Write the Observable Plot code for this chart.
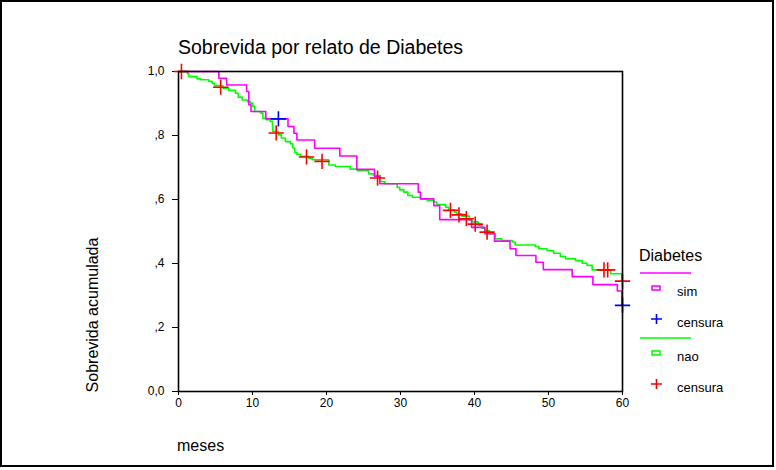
<!DOCTYPE html>
<html>
<head>
<meta charset="utf-8">
<script src="https://cdn.jsdelivr.net/npm/d3@7"></script>
<script src="https://cdn.jsdelivr.net/npm/@observablehq/plot@0.6"></script>
<style>
  html, body { margin: 0; padding: 0; background: #fff; }
  #chart svg { display: block; }
</style>
</head>
<body>
<div id="chart"></div>
<script>
// ---- Data ----
const titleText = "Sobrevida por relato de Diabetes";
const xLabel = "meses";
const yLabel = "Sobrevida acumulada";
const legendTitle = "Diabetes";
const groups = ["sim", "nao"];
const censorLabel = "censura";

const xTicks = [0, 10, 20, 30, 40, 50, 60];
const yTicks = [0, 0.2, 0.4, 0.6, 0.8, 1.0];
const yTickLabels = ["0,0", ",2", ",4", ",6", ",8", "1,0"];

// Kaplan-Meier steps, group "sim"
const simTime = [0, 5.45, 6.5, 9.2, 9.5, 9.8, 11.8, 14.8, 15.6, 16.0, 18.4, 21.8, 24.1, 26.5, 27.2, 32.4, 32.7, 34.5, 35.3, 39.6, 41.4, 42.7, 44.8, 45.6, 48.3, 49.3, 53.2, 56.0, 59.3, 59.9, 60];
const simSurv = [1, 0.979, 0.958, 0.9375, 0.896, 0.875, 0.852, 0.828, 0.807, 0.786, 0.760, 0.736, 0.694, 0.672, 0.649, 0.623, 0.602, 0.581, 0.537, 0.513, 0.493, 0.470, 0.446, 0.425, 0.404, 0.381, 0.359, 0.334, 0.314, 0.269, 0.269];
const simCensorTime = [13.5, 60];
const simCensorSurv = [0.852, 0.269];

// Kaplan-Meier steps, group "nao"
const naoTime = [0, 1.2, 1.4, 2.5, 3.0, 4.1, 4.55, 4.86, 6.0, 6.8, 7.7, 8.07, 8.6, 9.3, 9.7, 10.05, 10.3, 11.1, 11.4, 11.85, 12.4, 12.7, 12.75, 13.5, 13.9, 14.45, 15.1, 15.45, 15.7, 16.0, 16.5, 17.6, 18.07, 20.3, 21.2, 23.2, 24.15, 25.7, 26.4, 27.3, 27.9, 29.55, 29.9, 30.45, 31.0, 31.6, 32.7, 33.6, 34.5, 34.9, 36.1, 36.5, 37.3, 37.6, 38.3, 39.3, 39.7, 40.5, 41.0, 41.4, 42.0, 42.8, 43.7, 45.1, 45.5, 48.2, 48.7, 49.8, 50.7, 51.6, 52.3, 53.65, 54.55, 55.2, 55.9, 58.4, 59.9, 60];
const naoSurv = [1, 0.993, 0.984, 0.977, 0.974, 0.969, 0.963, 0.956, 0.948, 0.941, 0.932, 0.92, 0.911, 0.906, 0.901, 0.891, 0.875, 0.87, 0.854, 0.849, 0.844, 0.828, 0.8125, 0.802, 0.792, 0.781, 0.774, 0.761, 0.747, 0.741, 0.735, 0.729, 0.724, 0.708, 0.703, 0.695, 0.69, 0.68, 0.675, 0.656, 0.649, 0.638, 0.63, 0.623, 0.6125, 0.607, 0.602, 0.597, 0.592, 0.584, 0.576, 0.568, 0.56, 0.555, 0.548, 0.535, 0.53, 0.518, 0.51, 0.503, 0.493, 0.477, 0.472, 0.467, 0.458, 0.453, 0.446, 0.44, 0.432, 0.422, 0.415, 0.409, 0.401, 0.394, 0.38, 0.368, 0.345, 0.345];
const naoCensorTime = [0.4, 5.7, 13.2, 17.3, 19.4, 26.9, 36.75, 37.9, 38.9, 40.1, 41.7, 57.5, 58.0, 60];
const naoCensorSurv = [1.0, 0.951, 0.808, 0.733, 0.719, 0.667, 0.566, 0.552, 0.54, 0.523, 0.498, 0.38, 0.38, 0.345];

const colors = {sim: "#ff00ff", nao: "#00ff00", simCensor: "#0000ff", naoCensor: "#ff0000"};

// ---- Build tables ----
const simLine = simTime.map((t, i) => ({t, s: simSurv[i]}));
const naoLine = naoTime.map((t, i) => ({t, s: naoSurv[i]}));
const simCens = simCensorTime.map((t, i) => ({t, s: simCensorSurv[i]}));
const naoCens = naoCensorTime.map((t, i) => ({t, s: naoCensorSurv[i]}));

const font = "'Liberation Sans', Arial, Helvetica, sans-serif";

const chart = Plot.plot({
  width: 776,
  height: 470,
  marginLeft: 178,
  marginRight: 154,
  marginTop: 71,
  marginBottom: 79,
  style: {fontFamily: font, fontSize: "12px", color: "#000", background: "#fff", overflow: "visible"},
  x: {domain: [0, 60], ticks: xTicks, tickSize: 4, tickPadding: 3, label: null},
  y: {domain: [0, 1], ticks: yTicks, tickSize: 6, tickPadding: 8, label: null,
      tickFormat: d => yTickLabels[yTicks.findIndex(v => Math.abs(v - d) < 1e-9)]},
  marks: [
    Plot.line(naoLine, {x: "t", y: "s", curve: "step-after", stroke: colors.nao, strokeWidth: 1.6}),
    Plot.line(simLine, {x: "t", y: "s", curve: "step-after", stroke: colors.sim, strokeWidth: 1.6}),
    Plot.dot(naoCens, {x: "t", y: "s", symbol: "plus", r: 5, stroke: colors.naoCensor, strokeWidth: 1.6}),
    Plot.dot(simCens, {x: "t", y: "s", symbol: "plus", r: 5, stroke: colors.simCensor, strokeWidth: 1.6}),
    Plot.frame({stroke: "#000", strokeWidth: 1.6})
  ]
});

document.getElementById("chart").appendChild(chart);

// ---- Titles and legend added to the same SVG ----
const svg = d3.select(chart);
svg.append("rect").attr("x", 1).attr("y", 1).attr("width", 772).attr("height", 465)
  .attr("fill", "none").attr("stroke", "#000").attr("stroke-width", 2);

svg.append("text").attr("x", 178).attr("y", 54).attr("text-anchor", "start").attr("font-family", font).attr("font-size", 19.5)
  .attr("fill", "#000").text(titleText);
svg.append("text").attr("x", 177).attr("y", 451).attr("text-anchor", "start").attr("font-family", font).attr("font-size", 16)
  .attr("fill", "#000").text(xLabel);
svg.append("text").attr("transform", "translate(98,315) rotate(-90)").attr("text-anchor", "middle")
  .attr("font-family", font).attr("font-size", 16).attr("fill", "#000").text(yLabel);

const lg = svg.append("g").attr("font-family", font).attr("fill", "#000").attr("text-anchor", "start");
lg.append("text").attr("x", 639).attr("y", 261).attr("font-size", 16).text(legendTitle);
const legendRows = [
  {line: colors.sim, y: 273, label: groups[0], cens: colors.simCensor},
  {line: colors.nao, y: 338, label: groups[1], cens: colors.naoCensor}
];
legendRows.forEach(r => {
  lg.append("line").attr("x1", 640).attr("x2", 691).attr("y1", r.y).attr("y2", r.y)
    .attr("stroke", r.line).attr("stroke-width", 1.6);
  lg.append("rect").attr("x", 652).attr("y", r.y + 13).attr("width", 8).attr("height", 4)
    .attr("fill", "none").attr("stroke", r.line).attr("stroke-width", 1.6);
  lg.append("text").attr("x", 677).attr("y", r.y + 23).attr("font-size", 13).text(r.label);
  lg.append("path").attr("d", `M${651},${r.y + 46}h11M${656.5},${r.y + 41}v10`)
    .attr("stroke", r.cens).attr("stroke-width", 1.6).attr("fill", "none");
  lg.append("text").attr("x", 677).attr("y", r.y + 54).attr("font-size", 13).text(censorLabel);
});
</script>
</body>
</html>
